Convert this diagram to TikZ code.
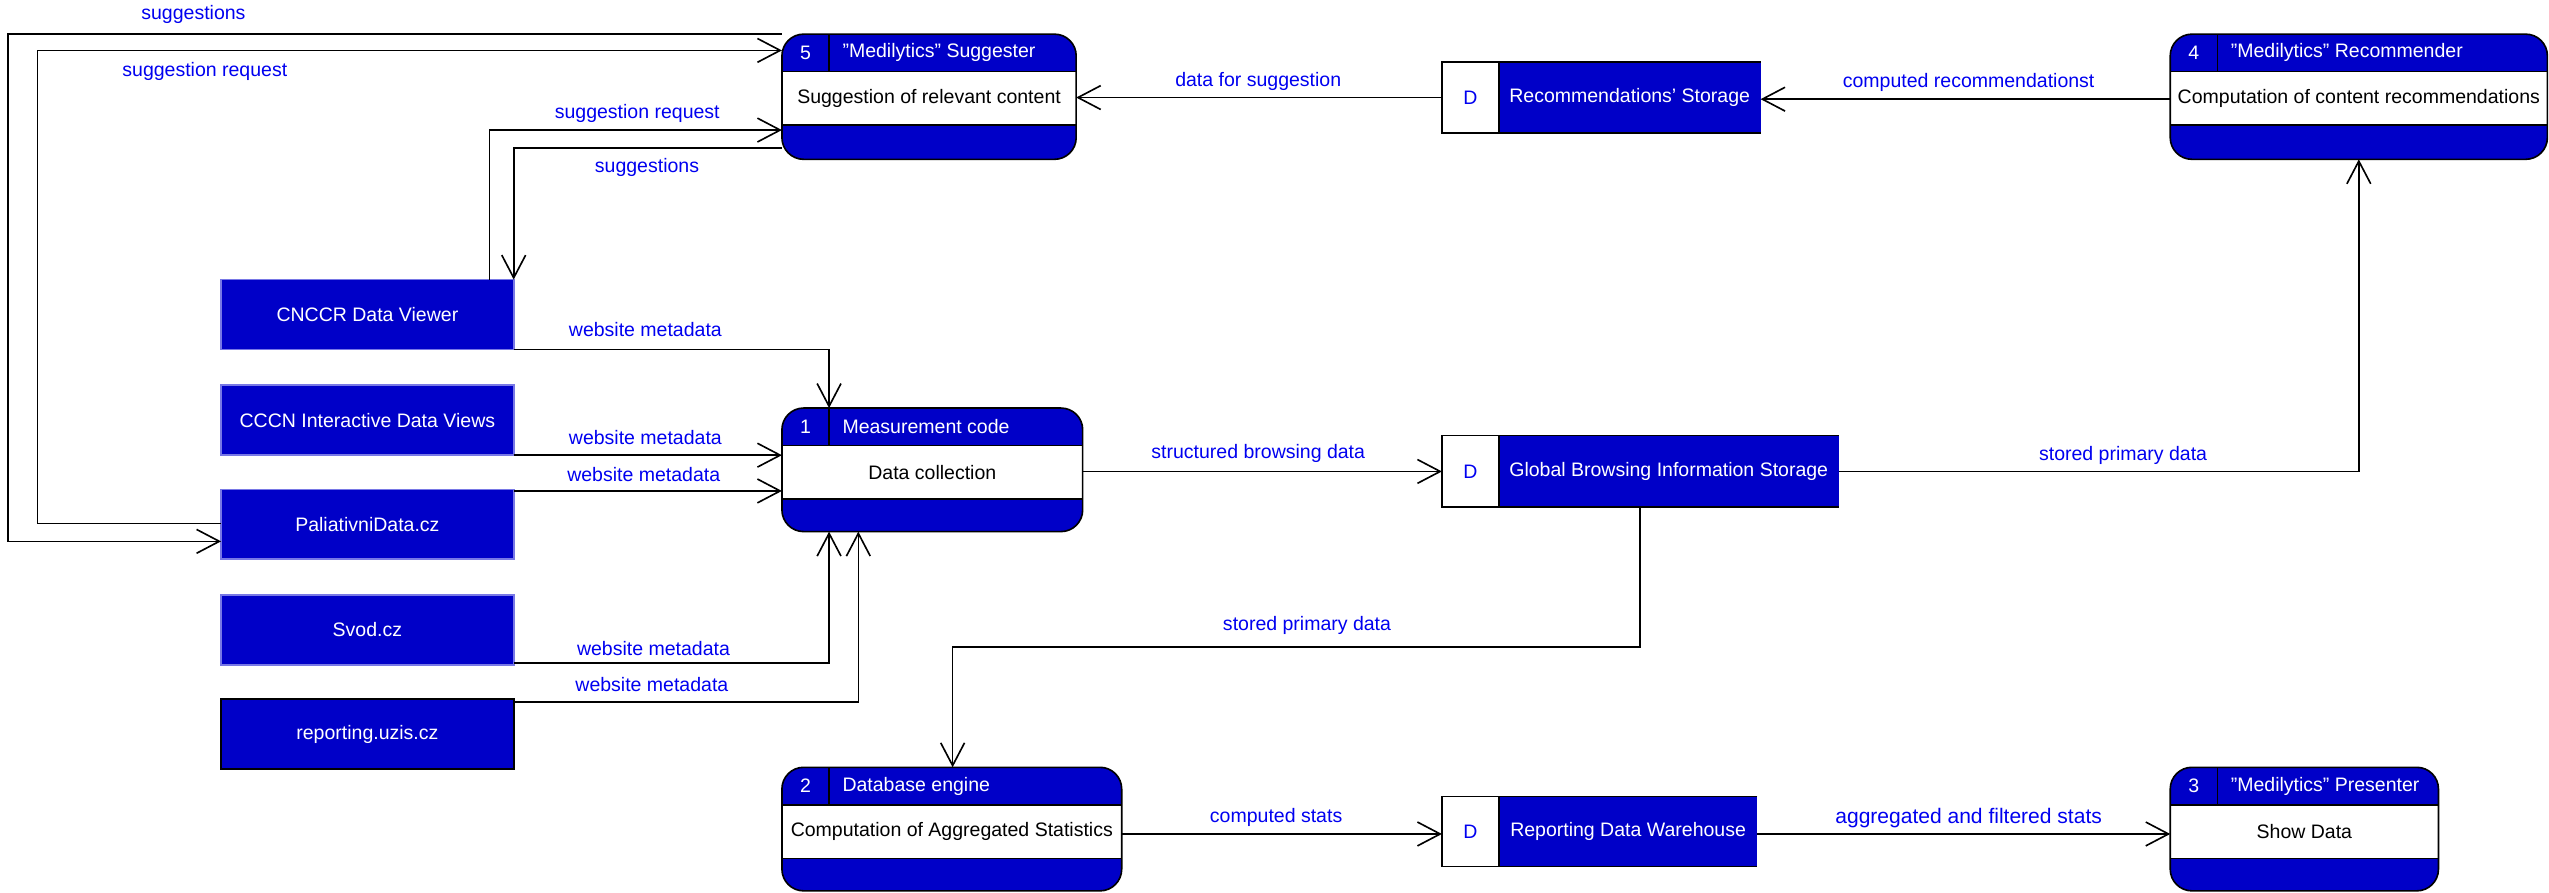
\documentclass[tikz,border=0pt]{standalone}
\usepackage{fontspec}
\setmainfont{Liberation Sans}
\usetikzlibrary{arrows.meta}
\definecolor{dfdblue}{RGB}{0,0,200}
\definecolor{lblblue}{RGB}{0,0,240}
\definecolor{entborder}{RGB}{120,120,230}

\newcommand\dfdproc[8]{%
  \node[procbox, minimum width={(#4-#2)*0.75pt}, minimum height={(#5-#3)*0.75pt}, anchor=north west] (#1) at (#2,#3) {};
  \fill[white] (#2,#3+23) rectangle (#4,#3+56);
  \draw[dfdline] (#2,#3+23) -- (#4,#3+23) (#2,#3+56) -- (#4,#3+56) (#2+29,#3) -- (#2+29,#3+23);
  \draw[dfdline, rounded corners=10pt] (#2,#3) rectangle (#4,#5);
  \node[whitetxt] at (#2+14.5,#3+11.5) {#6};
  \node[whitetxt, anchor=west] at (#2+37,#3+11.5) {#7};
  \node[blacktxt] at ({(#2+#4)/2},#3+39.5) {#8};
}
\newcommand\dfdstore[6]{%
  \node[inner sep=0pt, outer sep=0pt, minimum width={(#4-#2)*0.75pt}, minimum height={(#5-#3)*0.75pt}, anchor=north west] (#1) at (#2,#3) {};
  \fill[white] (#2,#3) rectangle (#2+35,#5);
  \fill[dfdblue] (#2+35,#3) rectangle (#4,#5);
  \draw[dfdline] (#4,#3) -- (#2,#3) -- (#2,#5) -- (#4,#5) (#2+35,#3) -- (#2+35,#5);
  \node[lbl] at (#2+17.5,{(#3+#5)/2}) {D};
  \node[whitetxt] at ({(#2+35+#4)/2},{(#3+#5)/2}) {#6};
}
\newcommand\dfdentity[7]{%
  \node[entity, draw=#7, minimum width={(#4-#2)*0.75pt}, minimum height={(#5-#3)*0.75pt}, anchor=north west] (#1) at (#2,#3) {#6};
}

\begin{document}
\begin{tikzpicture}[x=0.75pt, y=-0.75pt,
  font=\fontsize{9}{11}\selectfont,
  dfdline/.style={draw=black, line width=0.75pt},
  procbox/.style={fill=dfdblue, rounded corners=10pt, inner sep=0pt, outer sep=0pt},
  entity/.style={fill=dfdblue, text=white, line width=0.75pt, inner sep=0pt, outer sep=0pt},
  whitetxt/.style={text=white, inner sep=0pt},
  blacktxt/.style={text=black, inner sep=0pt},
  lbl/.style={text=lblblue, inner sep=0pt},
  flow/.style={draw=black, line width=0.75pt, -{Straight Barb[length=10.5pt, width=11pt, line width=0.75pt]}}
]
\fill[white] (0,0) rectangle (1568,549.3);
\useasboundingbox (0,0) rectangle (1568,549.3);

% processes
\dfdproc{n5}{481}{21}{662}{98}{5}{"Medilytics" Suggester}{Suggestion of relevant content}
\dfdproc{n4}{1335}{21}{1567}{98}{4}{"Medilytics" Recommender}{Computation of content recommendations}
\dfdproc{n1}{481}{251}{666}{327}{1}{Measurement code}{Data collection}
\dfdproc{n2}{481}{472}{690}{548}{2}{Database engine}{Computation of Aggregated Statistics}
\dfdproc{n3}{1335}{472}{1500}{548}{3}{"Medilytics" Presenter}{Show Data}

% data stores
\dfdstore{recs}{887}{38}{1083}{82}{Recommendations' Storage}
\dfdstore{glob}{887}{268}{1131}{312}{Global Browsing Information Storage}
\dfdstore{rdw}{887}{490}{1081}{533}{Reporting Data Warehouse}

% external entities
\dfdentity{cnccr}{136}{172}{316}{215}{CNCCR Data Viewer}{entborder}
\dfdentity{cccn}{136}{237}{316}{280}{CCCN Interactive Data Views}{entborder}
\dfdentity{pal}{136}{301}{316}{344}{PaliativniData.cz}{entborder}
\dfdentity{svod}{136}{366}{316}{409}{Svod.cz}{entborder}
\dfdentity{rep}{136}{430}{316}{473}{reporting.uzis.cz}{black}

% flows
\draw[flow] (n5.north west) -| (5,333) -- (pal.west |- 0,333);
\draw[flow] (pal.west |- 0,322) -| (23,31) -- (n5.west |- 0,31);
\draw[flow] (cnccr.north -| 301,0) |- (n5.west |- 0,80);
\draw[flow] (n5.west |- 0,91) -| (cnccr.north -| 316,0);
\draw[flow] (recs.west |- 0,60) -- (n5.east |- 0,60);
\draw[flow] (n4.west |- 0,61) -- (recs.east |- 0,61);
\draw[flow] (glob.east) -| (n4.south -| 1451,0);
\draw[flow] (cnccr.south east) -| (n1.north -| 510,0);
\draw[flow] (cccn.south east) -- (n1.west |- 0,280);
\draw[flow] (pal.east |- 0,302) -- (n1.west |- 0,302);
\draw[flow] (svod.east |- 0,408) -| (n1.south -| 510,0);
\draw[flow] (rep.east |- 0,432) -| (n1.south -| 528,0);
\draw[flow] (n1.east |- 0,290) -- (glob.west);
\draw[flow] (glob.south -| 1009,0) |- (586,398) -- (n2.north -| 586,0);
\draw[flow] (n2.east |- 0,513) -- (rdw.west |- 0,513);
\draw[flow] (rdw.east |- 0,513) -- (n3.west |- 0,513);

% labels
\node[lbl] (l1) at (119,9) {suggestions};
\node[lbl] (l2) at (126,44) {suggestion request};
\node[lbl] (l3) at (392,70) {suggestion request};
\node[lbl] (l4) at (398,103) {suggestions};
\node[lbl] (l5) at (774,50) {data for suggestion};
\node[lbl] (l6) at (1211,51) {computed recommendationst};
\node[lbl] (l7) at (397,203) {website metadata};
\node[lbl] (l8) at (397,269) {website metadata};
\node[lbl] (l9) at (396,292) {website metadata};
\node[lbl] (l10) at (402,399) {website metadata};
\node[lbl] (l11) at (401,421) {website metadata};
\node[lbl] (l12) at (774,279) {structured browsing data};
\node[lbl] (l13) at (1306,280) {stored primary data};
\node[lbl] (l14) at (804,385) {stored primary data};
\node[lbl] (l15) at (785,503) {computed stats};
\node[lbl, font=\fontsize{9.7}{12}\selectfont] (l16) at (1211,503) {aggregated and filtered stats};
\end{tikzpicture}
\end{document}
